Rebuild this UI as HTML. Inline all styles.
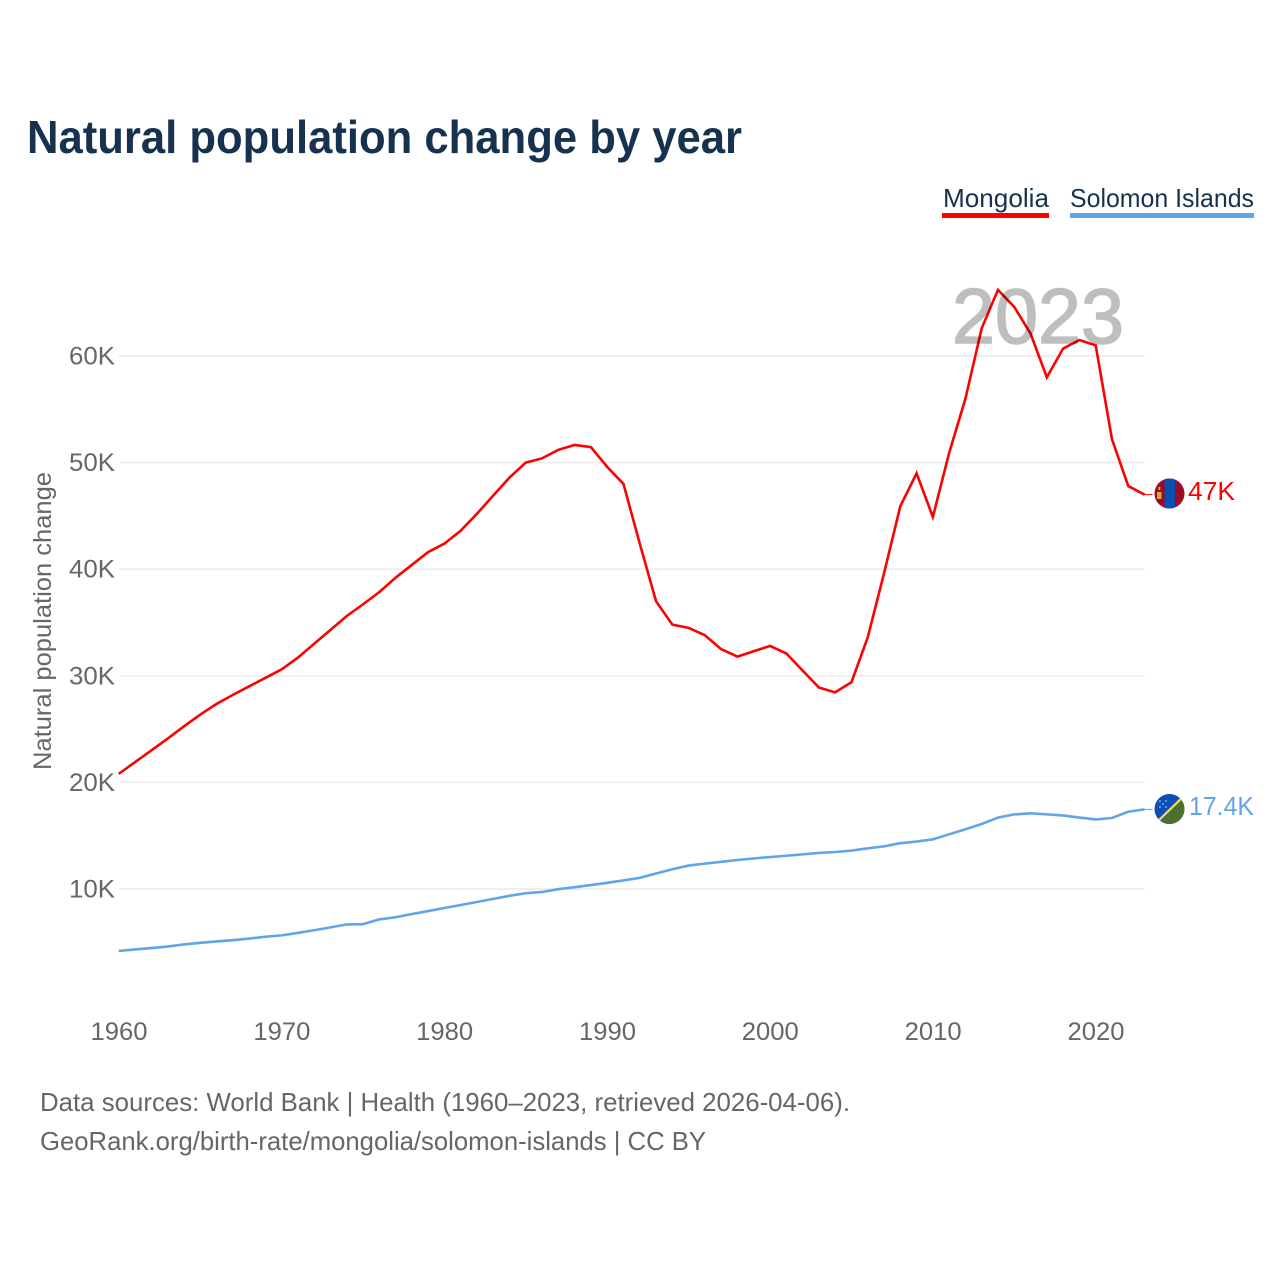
<!DOCTYPE html>
<html lang="en">
<head>
<meta charset="utf-8">
<title>Natural population change by year</title>
<style>
html,body{margin:0;padding:0;background:#fff;}
svg{display:block;font-family:"Liberation Sans",sans-serif;}
</style>
</head>
<body>
<svg id="chart" width="1280" height="1280" viewBox="0 0 1280 1280" xmlns="http://www.w3.org/2000/svg">
  <defs>
    <clipPath id="flag-clip-a"><circle cx="1169.5" cy="493.5" r="15"/></clipPath>
    <clipPath id="flag-clip-b"><circle cx="1169.5" cy="809" r="15"/></clipPath>
  </defs>
  <rect x="0" y="0" width="1280" height="1280" fill="#fff"/>
  <text x="27" y="153" font-size="46" font-weight="700" fill="#17324f" textLength="715" lengthAdjust="spacingAndGlyphs">Natural population change by year</text>

  <g>
    <g>
      <text x="943" y="207" font-size="26" fill="#17324f" textLength="106" lengthAdjust="spacingAndGlyphs">Mongolia</text>
      <rect x="942" y="213" width="107" height="5" fill="#ff0000"/>
    </g>
    <g>
      <text x="1070" y="207" font-size="26" fill="#17324f" textLength="184" lengthAdjust="spacingAndGlyphs">Solomon Islands</text>
      <rect x="1070" y="213" width="184" height="5" fill="#60a5ea"/>
    </g>
  </g>

  <g id="grid"></g>
  <g id="yticks"></g>
  <g id="xticks"></g>
  <text transform="translate(51,621) rotate(-90)" text-anchor="middle" font-size="25" fill="#666" textLength="298" lengthAdjust="spacingAndGlyphs">Natural population change</text>

  <g id="series"></g>

  <text x="952" y="343" font-size="78" font-weight="400" fill="#000" stroke="#000" stroke-width="1.6" opacity="0.25" textLength="172" lengthAdjust="spacingAndGlyphs">2023</text>

  <g clip-path="url(#flag-clip-a)">
    <rect x="1154" y="478" width="31" height="31" fill="#9c0a24"/>
    <rect x="1164.5" y="478" width="10.5" height="31" fill="#0b4fb0"/>
    <rect x="1157" y="492" width="4.5" height="7" fill="#d9a93a"/>
    <rect x="1158.3" y="487" width="2" height="3" fill="#d9a93a"/>
  </g>
  <g clip-path="url(#flag-clip-b)">
    <rect x="1154" y="793" width="31" height="32" fill="#0b50b5"/>
    <polygon points="1186,796 1186,826 1156,826" fill="#4c7030"/>
    <line x1="1186" y1="794" x2="1155" y2="824" stroke="#f5d64a" stroke-width="2.4"/>
    <circle cx="1160" cy="801" r="0.8" fill="#cfe0f5"/>
    <circle cx="1166" cy="801" r="0.8" fill="#cfe0f5"/>
    <circle cx="1163" cy="804" r="0.8" fill="#cfe0f5"/>
    <circle cx="1160" cy="807" r="0.8" fill="#cfe0f5"/>
    <circle cx="1166" cy="807" r="0.8" fill="#cfe0f5"/>
  </g>

  <text x="1188" y="500" font-size="25.5" fill="#ff0000" textLength="47" lengthAdjust="spacingAndGlyphs">47K</text>
  <text x="1189" y="815" font-size="25.5" fill="#60a5ea" textLength="65" lengthAdjust="spacingAndGlyphs">17.4K</text>

  <text x="40" y="1111" font-size="26" fill="#666" textLength="810" lengthAdjust="spacingAndGlyphs">Data sources: World Bank | Health (1960–2023, retrieved 2026-04-06).</text>
  <text x="40" y="1150" font-size="26" fill="#666" textLength="666" lengthAdjust="spacingAndGlyphs">GeoRank.org/birth-rate/mongolia/solomon-islands | CC BY</text>
</svg>
<script>
const startYear = 1960;
const xTickYears = [1960, 1970, 1980, 1990, 2000, 2010, 2020];
const yTickValues = [10, 20, 30, 40, 50, 60];
const yTickLabels = ["10K", "20K", "30K", "40K", "50K", "60K"];
const mongoliaValues = [20.8,21.9,23.0,24.1,25.25,26.35,27.35,28.2,29.0,29.8,30.6,31.7,33.0,34.3,35.6,36.7,37.85,39.2,40.4,41.6,42.4,43.6,45.2,46.9,48.6,50.0,50.4,51.2,51.65,51.45,49.6,48.0,42.4,37.0,34.8,34.5,33.8,32.5,31.8,32.3,32.8,32.1,30.5,28.9,28.45,29.4,33.6,39.6,45.9,49.0,44.9,50.9,56.0,62.6,66.2,64.6,62.1,58.0,60.7,61.5,61.0,52.2,47.8,47.0];
const solomonValues = [4.19,4.33,4.46,4.6,4.8,4.95,5.08,5.2,5.35,5.52,5.65,5.88,6.13,6.4,6.68,6.7,7.15,7.35,7.65,7.93,8.22,8.5,8.78,9.07,9.36,9.6,9.72,9.98,10.17,10.37,10.58,10.8,11.05,11.45,11.85,12.2,12.38,12.55,12.72,12.87,13.0,13.12,13.25,13.38,13.47,13.6,13.82,14.0,14.3,14.45,14.66,15.13,15.6,16.1,16.7,17.0,17.1,17.0,16.9,16.7,16.53,16.66,17.25,17.47];

const SVGNS = "http://www.w3.org/2000/svg";
function xScale(year) { return 118.7 + (year - 1960) * 16.283; }
function yScale(value) { return 995.6 - value * 10.66; }

const grid = document.getElementById("grid");
const yticks = document.getElementById("yticks");
const xticks = document.getElementById("xticks");
const series = document.getElementById("series");

yTickValues.forEach(function (v, i) {
  const line = document.createElementNS(SVGNS, "line");
  
  
  line.setAttribute("x1", 119);
  line.setAttribute("x2", xScale(2023));
  line.setAttribute("y1", yScale(v));
  line.setAttribute("y2", yScale(v));
  line.setAttribute("stroke", "#e9e9e9");
  line.setAttribute("stroke-width", "1.4");
  grid.appendChild(line);

  const label = document.createElementNS(SVGNS, "text");
  
  
  label.setAttribute("x", 69);
  label.setAttribute("y", yScale(v) + 8.5);
  label.setAttribute("font-size", "25");
  label.setAttribute("fill", "#666");
  label.setAttribute("textLength", "46");
  label.setAttribute("lengthAdjust", "spacingAndGlyphs");
  label.textContent = yTickLabels[i];
  yticks.appendChild(label);
});

xTickYears.forEach(function (year) {
  const label = document.createElementNS(SVGNS, "text");
  
  
  label.setAttribute("x", xScale(year) - 28.2);
  label.setAttribute("y", 1040);
  label.setAttribute("font-size", "25");
  label.setAttribute("fill", "#666");
  label.setAttribute("textLength", "57");
  label.setAttribute("lengthAdjust", "spacingAndGlyphs");
  label.textContent = String(year);
  xticks.appendChild(label);
});

function linePoints(values) {
  return values.map(function (v, i) {
    return xScale(startYear + i).toFixed(2) + "," + yScale(v).toFixed(2);
  }).join(" ");
}

const mongoliaLine = document.createElementNS(SVGNS, "polyline");


mongoliaLine.setAttribute("points", linePoints(mongoliaValues));
mongoliaLine.setAttribute("fill", "none");
mongoliaLine.setAttribute("stroke", "#ff0000");
mongoliaLine.setAttribute("stroke-width", "2.6");
series.appendChild(mongoliaLine);

const solomonLine = document.createElementNS(SVGNS, "polyline");


solomonLine.setAttribute("points", linePoints(solomonValues));
solomonLine.setAttribute("fill", "none");
solomonLine.setAttribute("stroke", "#60a5ea");
solomonLine.setAttribute("stroke-width", "2.6");
series.appendChild(solomonLine);

const lastYearX = xScale(startYear + mongoliaValues.length - 1);

const mongoliaConnector = document.createElementNS(SVGNS, "line");


mongoliaConnector.setAttribute("x1", lastYearX);
mongoliaConnector.setAttribute("x2", lastYearX + 8);
mongoliaConnector.setAttribute("y1", yScale(mongoliaValues[mongoliaValues.length - 1]));
mongoliaConnector.setAttribute("y2", yScale(mongoliaValues[mongoliaValues.length - 1]));
mongoliaConnector.setAttribute("stroke", "#ff0000");
mongoliaConnector.setAttribute("stroke-width", "1");
series.appendChild(mongoliaConnector);

const solomonConnector = document.createElementNS(SVGNS, "line");


solomonConnector.setAttribute("x1", lastYearX);
solomonConnector.setAttribute("x2", lastYearX + 8);
solomonConnector.setAttribute("y1", yScale(solomonValues[solomonValues.length - 1]));
solomonConnector.setAttribute("y2", yScale(solomonValues[solomonValues.length - 1]));
solomonConnector.setAttribute("stroke", "#60a5ea");
solomonConnector.setAttribute("stroke-width", "1");
series.appendChild(solomonConnector);
</script>
</body>
</html>
